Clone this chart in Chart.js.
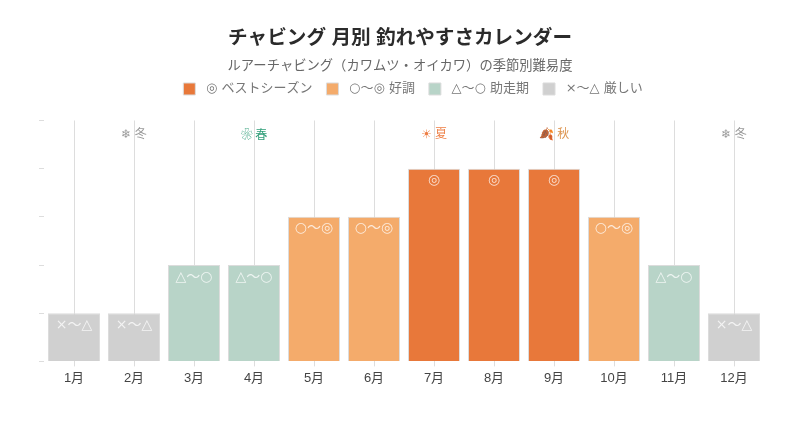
<!DOCTYPE html>
<html>
<head>
<meta charset="utf-8">
<style>
  html, body { margin: 0; background: #fff; }
  #wrap { width: 800px; height: 427px; }
</style>
<script src="https://cdn.jsdelivr.net/npm/chart.js@4/dist/chart.umd.min.js"></script>
</head>
<body>
<div id="wrap"><canvas id="calendarChart"></canvas></div>
<script>
const FONT = '"Liberation Sans", "DejaVu Sans", "Noto Sans CJK JP", sans-serif';
const MARK_FONT = '"DejaVu Sans", "Noto Sans CJK JP", sans-serif';
const CJK_FONT = '"Noto Sans CJK JP", "DejaVu Sans", sans-serif';

const months = ['1月', '2月', '3月', '4月', '5月', '6月', '7月', '8月', '9月', '10月', '11月', '12月'];
const bestValues = [null, null, null, null, null, null, 4, 4, 4, null, null, null];
const goodValues = [null, null, null, null, 3, 3, null, null, null, 3, null, null];
const warmupValues = [null, null, 2, 2, null, null, null, null, null, null, 2, null];
const hardValues = [1, 1, null, null, null, null, null, null, null, null, null, 1];
const legendNames = [' ◎ ベストシーズン', ' ○〜◎ 好調', ' △〜○ 助走期', ' ×〜△ 厳しい'];
const barMarks = ['◎', '○〜◎', '△〜○', '×〜△'];
const seasonMonths = ['2月', '4月', '7月', '9月', '12月'];
const seasonNames = ['❄ 冬', '❀ 春', '☀ 夏', '🍂 秋', '❄ 冬'];
const seasonColors = ['#999999', '#2f9e78', '#ee7f45', '#dd9550', '#999999'];
const seasonFonts = [FONT, CJK_FONT, FONT, FONT, FONT];

// text inside the bars and the season names along the top
const markPlugin = {
  id: 'marks',
  beforeInit(chart) {
    // leave room between the legend and the plot
    const fit = chart.legend.fit;
    chart.legend.fit = function () {
      fit.call(this);
      this.height += 15;
    };
  },
  afterLayout(chart) {
    chart.legend.left += 13;
    chart.legend.right += 13;
  },
  afterDatasetsDraw(chart) {
    const { ctx, scales } = chart;
    ctx.save();
    ctx.textAlign = 'center';
    ctx.textBaseline = 'middle';
    ctx.fillStyle = 'rgba(255,255,255,0.75)';
    ctx.font = '14px ' + MARK_FONT;
    chart.data.datasets.forEach((ds, i) => {
      chart.getDatasetMeta(i).data.forEach((bar, j) => {
        if (ds.data[j] !== null) ctx.fillText(barMarks[i], bar.x, bar.y + 12);
      });
    });
    seasonMonths.forEach((m, i) => {
      ctx.font = '12px ' + seasonFonts[i];
      ctx.fillStyle = seasonColors[i];
      ctx.fillText(seasonNames[i], scales.x.getPixelForValue(m), scales.y.getPixelForValue(4.71));
    });
    ctx.restore();
  }
};

function levelDataset(index, data, color) {
  return {
    label: legendNames[index],
    data: data,
    backgroundColor: color,
    borderColor: '#dcdcdc',
    borderWidth: 1,
    barPercentage: 52 / 60,
    categoryPercentage: 1
  };
}

new Chart(document.getElementById('calendarChart'), {
  type: 'bar',
  data: {
    labels: months,
    datasets: [
      levelDataset(0, bestValues, '#e8783a'),
      levelDataset(1, goodValues, '#f4ab6b'),
      levelDataset(2, warmupValues, '#b8d4c8'),
      levelDataset(3, hardValues, '#d0d0d0')
    ]
  },
  options: {
    responsive: true,
    maintainAspectRatio: false,
    animation: false,
    layout: { padding: { top: 27, right: 36, bottom: 37, left: 36 } },
    plugins: {
      title: {
        display: true,
        text: 'チャビング 月別 釣れやすさカレンダー',
        color: '#2b2b2b',
        font: { family: FONT, size: 19.6, weight: 'bold' },
        padding: { top: 0, bottom: 8 }
      },
      subtitle: {
        display: true,
        text: 'ルアーチャビング（カワムツ・オイカワ）の季節別難易度',
        color: '#666666',
        font: { family: FONT, size: 13.3 },
        padding: { top: 0, bottom: -6 }
      },
      legend: {
        position: 'top',
        labels: {
          boxWidth: 12,
          boxHeight: 12,
          padding: 14,
          color: '#777777',
          font: { family: MARK_FONT, size: 13 }
        }
      },
      tooltip: { enabled: false }
    },
    scales: {
      x: {
        stacked: true,
        border: { display: false },
        grid: { offset: false, color: '#dddddd', tickLength: 5 },
        ticks: { color: '#444444', padding: 4, font: { family: FONT, size: 13 }, maxRotation: 0 }
      },
      y: {
        stacked: true,
        min: 0,
        max: 5,
        border: { display: false },
        grid: { drawOnChartArea: false, color: '#dddddd', tickLength: 5 },
        ticks: { stepSize: 1, callback: () => '' },
        afterFit(scale) { scale.width = 8; }
      }
    }
  },
  plugins: [markPlugin]
});
</script>
</body>
</html>
